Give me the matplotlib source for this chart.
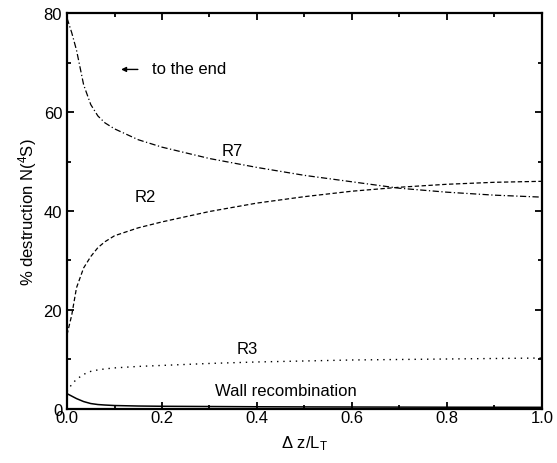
import numpy as np
import matplotlib
matplotlib.use('Agg')
from matplotlib import pyplot as plt
from matplotlib.ticker import MultipleLocator

plt.rcParams['font.family'] = ['Liberation Sans', 'DejaVu Sans']
plt.rcParams['mathtext.fontset'] = 'custom'
plt.rcParams['mathtext.rm'] = 'Liberation Sans'
plt.rcParams['mathtext.it'] = 'Liberation Sans'

# values
z = [0.0, 0.01, 0.02, 0.035, 0.05, 0.065, 0.08, 0.1, 0.15, 0.2, 0.3, 0.4, 0.5, 0.6, 0.7, 0.8, 0.9, 1.0]
r7 = [79.0, 76.0, 72.5, 65.5, 61.5, 59.2, 57.8, 56.6, 54.4, 52.9, 50.6, 48.8, 47.2, 45.9, 44.6, 43.8, 43.2, 42.8]
r2 = [15.0, 19.0, 24.5, 28.5, 30.8, 32.6, 33.8, 35.0, 36.6, 37.8, 39.9, 41.6, 42.9, 44.0, 44.8, 45.4, 45.8, 46.0]
r3 = [3.5, 5.0, 6.0, 7.0, 7.6, 7.9, 8.1, 8.3, 8.6, 8.8, 9.2, 9.5, 9.7, 9.9, 10.0, 10.1, 10.2, 10.3]
wall = [3.1, 2.6, 2.1, 1.5, 1.1, 0.9, 0.8, 0.7, 0.6, 0.55, 0.5, 0.45, 0.42, 0.4, 0.38, 0.36, 0.35, 0.34]

fig = plt.figure(figsize=(5.57, 4.64), dpi=100)
ax = fig.add_axes([0.1203, 0.1164, 0.8527, 0.8534])

ax.plot(z, r7, color='black', lw=0.9, linestyle=(0, (5, 2, 1, 2)))
ax.plot(z, r2, color='black', lw=0.9, linestyle=(0, (3.5, 2)))
ax.plot(z, r3, color='black', lw=1.0, linestyle=(0, (1, 3.5)))
ax.plot(z, wall, color='black', lw=1.1, linestyle='-')

fs = 12
ax.text(0.347, 52.3, 'R7', fontsize=fs, ha='center', va='center')
ax.text(0.165, 43.0, 'R2', fontsize=fs, ha='center', va='center')
ax.text(0.38, 12.2, 'R3', fontsize=fs, ha='center', va='center')
ax.text(0.46, 3.7, 'Wall recombination', fontsize=fs, ha='center', va='center')
ax.annotate('', xy=(0.108, 68.6), xytext=(0.155, 68.6),
            arrowprops=dict(arrowstyle='-|>', color='black', lw=1.0,
                            mutation_scale=7))
ax.text(0.18, 68.8, 'to the end', fontsize=fs, ha='left', va='center')

ax.set_xlim(0, 1.0)
ax.set_ylim(0, 80)
ax.xaxis.set_major_locator(MultipleLocator(0.2))
ax.xaxis.set_minor_locator(MultipleLocator(0.1))
ax.yaxis.set_major_locator(MultipleLocator(20))
ax.yaxis.set_minor_locator(MultipleLocator(10))
ax.xaxis.set_major_formatter(plt.FormatStrFormatter('%.1f'))

ax.tick_params(which='both', direction='in', top=True, right=True, labelsize=fs, width=1.3)
ax.tick_params(which='major', length=5)
ax.tick_params(which='minor', length=3)
ax.tick_params(axis='x', pad=1)
for s in ax.spines.values():
    s.set_linewidth(1.6)

ax.set_xlabel(r'$\Delta$ z/L$_{\rm T}$', fontsize=fs, labelpad=6)
ax.set_ylabel(r'% destruction N($^4$S)', fontsize=fs, labelpad=3)

fig.savefig('out.png', dpi=100)
